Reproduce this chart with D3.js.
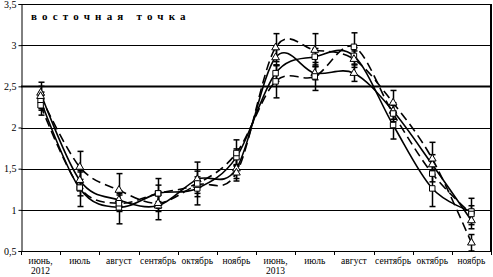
<!DOCTYPE html>
<html>
<head>
<meta charset="utf-8">
<script src="https://cdn.jsdelivr.net/npm/d3@7"></script>
<style>
  body { margin: 0; background: #fff; }
  text { font-family: "Liberation Serif", "DejaVu Serif", serif; fill: #000; }
</style>
</head>
<body>
<div id="chart"></div>
<script>
// Months (two seasons)
const months = ["июнь,", "июль", "август", "сентябрь", "октябрь", "ноябрь",
                "июнь,", "июль", "август", "сентябрь", "октябрь", "ноябрь"];
const years = ["2012", "", "", "", "", "", "2013", "", "", "", "", ""];
const yTicks = [0.5, 1, 1.5, 2, 2.5, 3, 3.5];

// Series values
const solidTri   = [2.42, 1.36, 1.12, 1.05, 1.37, 1.50, 2.85, 2.66, 2.66, 2.20, 1.55, 0.87];
const solidSq    = [2.33, 1.26, 1.03, 1.20, 1.26, 1.64, 2.66, 2.86, 2.87, 2.03, 1.26, 0.98];
const dashTri    = [2.38, 1.52, 1.24, 1.08, 1.30, 1.45, 2.97, 2.94, 2.83, 2.30, 1.62, 0.60];
const dashSq     = [2.27, 1.27, 1.08, 1.20, 1.32, 1.69, 2.56, 2.62, 2.98, 2.17, 1.44, 0.95];

// Error bar half widths
const solidTriErr = [0.08, 0.10, 0.08, 0.17, 0.10, 0.12, 0.10, 0.08, 0.10, 0.10, 0.12, 0.10];
const solidSqErr  = [0.10, 0.22, 0.20, 0.10, 0.10, 0.10, 0.10, 0.10, 0.10, 0.17, 0.22, 0.16];
const dashTriErr  = [0.17, 0.19, 0.20, 0.10, 0.10, 0.10, 0.17, 0.20, 0.10, 0.15, 0.20, 0.10];
const dashSqErr   = [0.12, 0.10, 0.10, 0.18, 0.26, 0.16, 0.20, 0.17, 0.17, 0.10, 0.10, 0.10];

const series = [
  { values: solidTri, err: solidTriErr, dash: null, marker: "tri" },
  { values: solidSq,  err: solidSqErr,  dash: null, marker: "sq" },
  { values: dashTri,  err: dashTriErr,  dash: "9,5", marker: "tri" },
  { values: dashSq,   err: dashSqErr,   dash: "9,5", marker: "sq" }
];

const W = 493, H = 277;
const plotLeft = 21, plotRight = 491, plotTop = 4, plotBottom = 251;

const svg = d3.select("#chart").append("svg")
  .attr("width", W).attr("height", H);

const x = d3.scaleBand().domain(d3.range(months.length)).range([plotLeft, plotRight]);
const y = d3.scaleLinear().domain([0.5, 3.5]).range([plotBottom, plotTop]);

// grid lines
svg.append("g").selectAll("line")
  .data(yTicks.filter(t => t > 0.5))
  .enter().append("line")
  .attr("x1", plotLeft).attr("x2", plotRight)
  .attr("y1", d => Math.round(y(d)) + 0.5).attr("y2", d => Math.round(y(d)) + 0.5)
  .attr("stroke", "#000")
  .attr("stroke-width", d => d === 2.5 ? 2 : 1);

// right border
svg.append("line")
  .attr("x1", plotRight).attr("x2", plotRight).attr("y1", plotTop).attr("y2", plotBottom)
  .attr("stroke", "#000").attr("stroke-width", 2);

// y axis
const yAxis = svg.append("g")
  .attr("transform", `translate(${plotLeft + 0.5},0)`)
  .call(d3.axisLeft(y).tickValues(yTicks).tickSize(3)
    .tickFormat(d => String(d).replace(".", ",")));
yAxis.select(".domain").attr("stroke", "#000");
yAxis.selectAll("text").style("font-size", "10px").attr("x", -5);

// x axis with ticks on category boundaries
const xg = svg.append("g");
xg.append("line")
  .attr("x1", plotLeft).attr("x2", plotRight)
  .attr("y1", plotBottom + 0.5).attr("y2", plotBottom + 0.5)
  .attr("stroke", "#000");
xg.selectAll(".tk").data(d3.range(months.length + 1)).enter().append("line")
  .attr("x1", i => Math.round(plotLeft + i * x.step()) + 0.5)
  .attr("x2", i => Math.round(plotLeft + i * x.step()) + 0.5)
  .attr("y1", plotBottom).attr("y2", plotBottom + 4)
  .attr("stroke", "#000");
xg.selectAll(".lb").data(months).enter().append("text")
  .attr("x", (d, i) => x(i) + x.bandwidth() / 2)
  .attr("y", 264)
  .attr("text-anchor", "middle")
  .style("font-size", "9.5px")
  .text(d => d);
xg.selectAll(".yr").data(years).enter().append("text")
  .attr("x", (d, i) => x(i) + x.bandwidth() / 2)
  .attr("y", 274)
  .attr("text-anchor", "middle")
  .style("font-size", "9.5px")
  .text(d => d);

// title
svg.append("text")
  .attr("x", 31).attr("y", 20)
  .style("font-size", "11px")
  .style("font-weight", "bold")
  .style("letter-spacing", "5.2px")
  .text("восточная точка");

const cx = i => x(i) + x.bandwidth() / 2;

// error bars
series.forEach(s => {
  const g = svg.append("g");
  s.values.forEach((v, i) => {
    const lo = y(v - s.err[i]), hi = y(v + s.err[i]), xc = Math.round(cx(i)) + 0.5;
    g.append("line").attr("x1", xc).attr("x2", xc).attr("y1", lo).attr("y2", hi)
      .attr("stroke", "#000").attr("stroke-width", 1.5);
    [lo, hi].forEach(yy => g.append("line")
      .attr("x1", xc - 3).attr("x2", xc + 3).attr("y1", yy).attr("y2", yy)
      .attr("stroke", "#000").attr("stroke-width", 1.5));
  });
});

// smoothed lines
const line = d3.line()
  .x((d, i) => cx(i))
  .y(d => y(d))
  .curve(d3.curveCardinal.tension(0));

series.forEach(s => {
  svg.append("path")
    .datum(s.values)
    .attr("d", line)
    .attr("fill", "none")
    .attr("stroke", "#000")
    .attr("stroke-width", 1.6)
    .attr("stroke-dasharray", s.dash);
});

// markers
const triSym = d3.symbol().type(d3.symbolTriangle).size(26);
const sqSym = d3.symbol().type(d3.symbolSquare).size(30);
series.forEach(s => {
  svg.append("g").selectAll("path")
    .data(s.values)
    .enter().append("path")
    .attr("transform", (d, i) => `translate(${cx(i)},${y(d)})`)
    .attr("d", s.marker === "tri" ? triSym : sqSym)
    .attr("fill", "#fff")
    .attr("stroke", "#000")
    .attr("stroke-width", 1);
});
</script>
</body>
</html>
